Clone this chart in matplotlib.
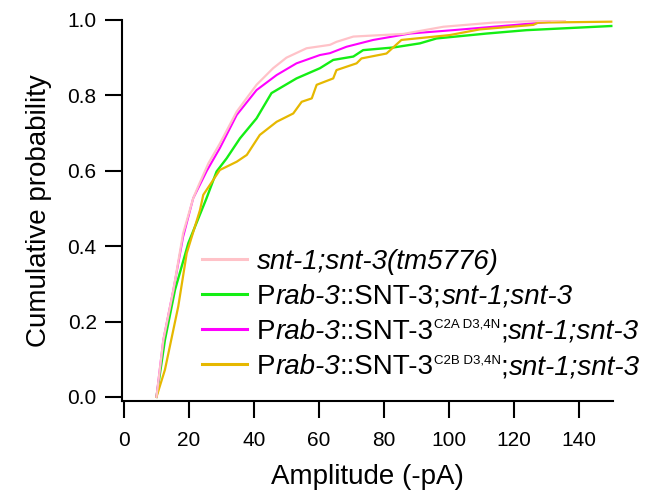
import matplotlib
matplotlib.use("Agg")
import matplotlib.pyplot as plt

plt.rcParams['font.family'] = ['Liberation Sans', 'DejaVu Sans']

# ---- data ----
pink_amp = [10, 12.1, 15.2, 18.2, 21.3, 22.9, 26.0, 29.5, 34.7, 40.8, 45.9, 50.0,
            56.2, 63.4, 65.4, 70.6, 86.0, 98.3, 113.6, 135.7]
pink_cum = [0, 0.151, 0.284, 0.434, 0.527, 0.56, 0.62, 0.672, 0.757, 0.828, 0.872, 0.900,
            0.925, 0.934, 0.942, 0.956, 0.963, 0.982, 0.993, 1.0]

green_amp = [10, 12.6, 15.7, 19.8, 25.4, 28.5, 31.6, 35.7, 40.8, 45.4, 53.1, 60.3,
             64.4, 70.6, 73.6, 82.9, 91.1, 96.2, 111.6, 123.9, 150]
green_cum = [0, 0.151, 0.284, 0.408, 0.527, 0.598, 0.633, 0.686, 0.739, 0.806, 0.845, 0.872,
             0.894, 0.903, 0.920, 0.927, 0.938, 0.951, 0.964, 0.973, 0.984]

magenta_amp = [10, 12.1, 15.2, 18.2, 21.3, 25.5, 29.5, 34.7, 40.8, 47.0, 53.1, 60.3,
               63.4, 68.5, 76.7, 88.0, 101.3, 113.6, 126.0, 131.0]
magenta_cum = [0, 0.151, 0.284, 0.425, 0.527, 0.600, 0.660, 0.748, 0.814, 0.854, 0.885, 0.907,
               0.912, 0.929, 0.947, 0.964, 0.973, 0.982, 0.991, 0.995]

yellow_amp = [10, 12.6, 16.7, 19.3, 23.4, 24.4, 29.5, 34.7, 37.8, 41.8, 47.0, 52.1,
              54.7, 57.8, 59.3, 64.4, 65.4, 71.6, 73.1, 80.8, 85.4, 100.3, 109.5, 126.0,
              127.5, 150]
yellow_cum = [0, 0.072, 0.24, 0.381, 0.496, 0.536, 0.602, 0.624, 0.642, 0.695, 0.730, 0.752,
              0.783, 0.792, 0.828, 0.845, 0.867, 0.885, 0.898, 0.911, 0.947, 0.960, 0.975, 0.987,
              0.993, 0.9955]

# legend labels as (text, style, kind) pieces; 'sup' = superscript
label_pieces = [
    [('snt-1;snt-3(tm5776)', 'italic', 'main')],
    [('P', 'normal', 'main'), ('rab-3', 'italic', 'main'), ('::SNT-3;', 'normal', 'main'),
     ('snt-1;snt-3', 'italic', 'main')],
    [('P', 'normal', 'main'), ('rab-3', 'italic', 'main'), ('::SNT-3', 'normal', 'main'),
     ('C2A D3,4N', 'normal', 'sup'), (';', 'normal', 'main'), ('snt-1;snt-3', 'italic', 'main')],
    [('P', 'normal', 'main'), ('rab-3', 'italic', 'main'), ('::SNT-3', 'normal', 'main'),
     ('C2B D3,4N', 'normal', 'sup'), (';', 'normal', 'main'), ('snt-1;snt-3', 'italic', 'main')],
]
colors = ['#FFC2C8', '#14EE14', '#FF00FF', '#E6B800']

x_ticks = [0, 20, 40, 60, 80, 100, 120, 140]
y_ticks = [0.0, 0.2, 0.4, 0.6, 0.8, 1.0]

FS = 20
SUP_FS = 9.5

fig = plt.figure(figsize=(6.58, 4.97), dpi=100)
ax = fig.add_axes([0.185, 0.1938, 0.746, 0.766])

lp, = ax.plot(pink_amp, pink_cum, color=colors[0], lw=1.6, zorder=5)
lg, = ax.plot(green_amp, green_cum, color=colors[1], lw=1.7, zorder=2)
lm, = ax.plot(magenta_amp, magenta_cum, color=colors[2], lw=1.5, zorder=3)
ly, = ax.plot(yellow_amp, yellow_cum, color=colors[3], lw=1.6, zorder=4)

ax.set_xlim(-0.7, 150.4)
ax.set_ylim(-0.01, 1.0)
ax.set_xticks(x_ticks)
ax.set_yticks(y_ticks)
ax.set_yticklabels([f'{v:.1f}' for v in y_ticks])
for s in ['top', 'right']:
    ax.spines[s].set_visible(False)
for s in ['left', 'bottom']:
    ax.spines[s].set_linewidth(1.5)
ax.tick_params(axis='both', direction='out', length=12, width=1.5, labelsize=15)
ax.tick_params(axis='x', pad=10)
ax.tick_params(axis='y', pad=6)
ax.set_xlabel('Amplitude (-pA)', fontsize=FS, labelpad=10)
ax.set_ylabel('Cumulative probability', fontsize=FS, labelpad=11)

first_labels = [p[0][0] for p in label_pieces]
leg = ax.legend(handles=[lp, lg, lm, ly], labels=first_labels, loc='upper left',
                bbox_to_anchor=(0.163, 0.3995), frameon=False, fontsize=FS,
                handlelength=1.62, handletextpad=0.36, labelspacing=0.33,
                borderpad=0, borderaxespad=0)
leg.set_zorder(10)
for h in leg.get_lines():
    h.set_linewidth(2.2)

for row, txt in zip(label_pieces, leg.get_texts()):
    txt.set_fontstyle(row[0][1])
    prev = txt
    base = txt
    for s, style, kind in row[1:]:
        if kind == 'sup':
            t = ax.annotate(s, xy=(1, 1), xycoords=(prev, base), va='top', ha='left',
                            fontsize=SUP_FS, fontstyle=style, zorder=11)
        else:
            t = ax.annotate(s, xy=(1, 0), xycoords=(prev, base), va='bottom', ha='left',
                            fontsize=FS, fontstyle=style, zorder=11)
        prev = t

fig.canvas.draw()
fig.savefig('out.png', dpi=100)
